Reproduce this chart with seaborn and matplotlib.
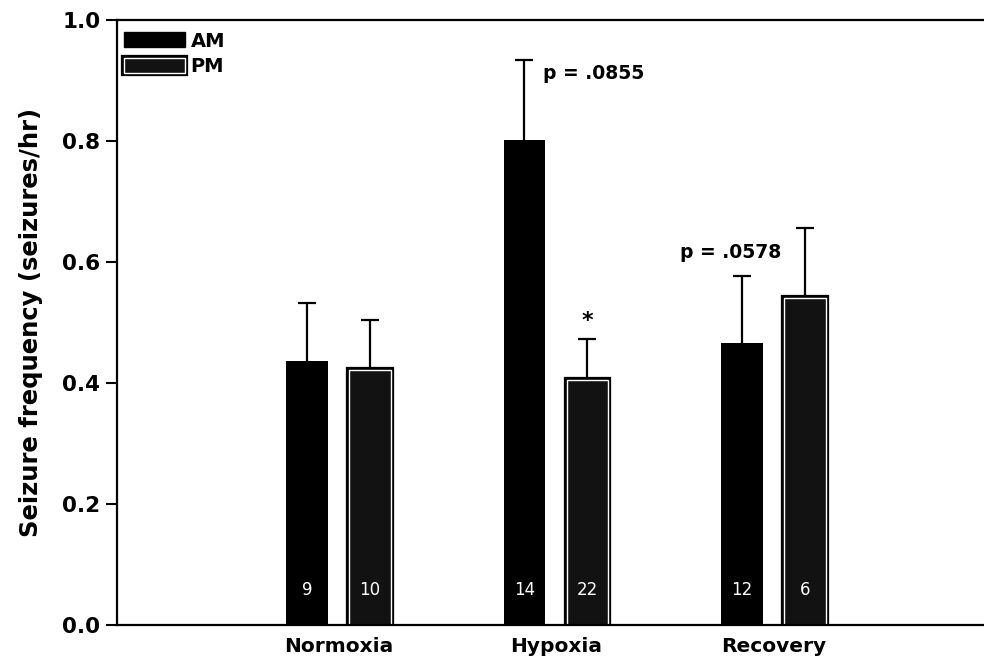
import matplotlib
matplotlib.use("Agg")
import matplotlib.pyplot as plt
import matplotlib.patheffects as pe
from matplotlib.patches import Patch
import seaborn as sns
import pandas as pd

# Seizure frequency by condition and recording session
conditions = ["Normoxia", "Hypoxia", "Recovery"]
sessions = ["AM", "PM"]
am_mean = [0.436, 0.802, 0.466]
pm_mean = [0.421, 0.405, 0.540]
am_sem = [0.096, 0.132, 0.111]
pm_sem = [0.083, 0.068, 0.116]
am_n = [9, 14, 12]
pm_n = [10, 22, 6]

df = pd.DataFrame({
    "condition": conditions * 2,
    "session": ["AM"] * 3 + ["PM"] * 3,
    "freq": am_mean + pm_mean,
})

sns.set_theme(style="white")
plt.rcParams["font.family"] = ["DejaVu Sans"]
plt.rcParams["font.weight"] = "bold"
for key in ["text.color", "axes.labelcolor", "xtick.color", "ytick.color"]:
    plt.rcParams[key] = "black"

fig = plt.figure(figsize=(9.84, 6.6), dpi=100)
ax = fig.add_axes([117 / 984, 35 / 660, 1 - 117 / 984, 605 / 660])

sns.barplot(data=df, x="condition", y="freq", hue="session",
            order=conditions, hue_order=sessions,
            palette={"AM": "black", "PM": "#121212"},
            width=0.58, gap=0.34, errorbar=None, legend=False, ax=ax,
            edgecolor="black", linewidth=0)

pm_effect = [pe.Stroke(linewidth=4.5, foreground="black"), pe.Normal()]
for bar in ax.containers[1]:
    bar.set_edgecolor("white")
    bar.set_linewidth(1.0)
    bar.set_path_effects(pm_effect)

# upward-only error bars (drawn behind the bars) and sample sizes
for cont, sems, ns in zip(list(ax.containers[:2]), [am_sem, pm_sem], [am_n, pm_n]):
    for bar, s, n in zip(cont, sems, ns):
        xc = bar.get_x() + bar.get_width() / 2
        h = bar.get_height()
        eb = ax.errorbar(xc, h, yerr=[[0], [s]], fmt="none", ecolor="black",
                         elinewidth=1.6, capsize=6.5, capthick=1.6, zorder=0.5)
        caps = eb[1]
        if len(caps) > 1:
            caps[0].set_visible(False)
        ax.text(xc, 0.058, str(n), color="white", ha="center", va="center",
                fontsize=12, fontweight="normal", zorder=5)

# significance annotations
hyp_am = ax.containers[0][1]
ax.text(hyp_am.get_x() + hyp_am.get_width() - 0.01, am_mean[1] + am_sem[1] - 0.022,
        "p = .0855", ha="left", va="center", fontsize=13.5, fontweight="bold")
rec_am = ax.containers[0][2]
ax.text(rec_am.get_x() + rec_am.get_width() / 2 - 0.05, am_mean[2] + am_sem[2] + 0.038,
        "p = .0578", ha="center", va="center", fontsize=13.5, fontweight="bold")
hyp_pm = ax.containers[1][1]
ax.text(hyp_pm.get_x() + hyp_pm.get_width() / 2, pm_mean[1] + pm_sem[1] + 0.03,
        "*", ha="center", va="center", fontsize=16, fontweight="bold")

ax.set_xlim(-1.02, 2.97)
ax.set_ylim(0, 1.0)
ticks = [0.0, 0.2, 0.4, 0.6, 0.8, 1.0]
ax.set_yticks(ticks)
ax.set_yticklabels([f"{v:.1f}" for v in ticks])
ax.tick_params(axis="y", direction="out", length=8, width=1.5, pad=4,
               labelsize=15.5, left=True)
ax.tick_params(axis="x", length=0, pad=9, labelsize=14.5)
for lab in ax.get_xticklabels() + ax.get_yticklabels():
    lab.set_fontweight("bold")
ax.set_xlabel("")
ax.set_ylabel("Seizure frequency (seizures/hr)", fontsize=17.5, fontweight="bold",
              labelpad=14)

for side in ["left", "bottom", "top"]:
    ax.spines[side].set_color("black")
    ax.spines[side].set_linewidth(1.6)
ax.spines["right"].set_visible(False)

handles = [Patch(facecolor="black", edgecolor="black", label="AM"),
           Patch(facecolor="#121212", edgecolor="white", linewidth=1.0,
                 path_effects=pm_effect, label="PM")]
leg = ax.legend(handles=handles, loc="upper left", bbox_to_anchor=(-0.005, 1.0),
                frameon=False, fontsize=14, handlelength=3.1, handleheight=0.8,
                handletextpad=0.3, labelspacing=0.35, borderaxespad=0.2)
for t in leg.get_texts():
    t.set_fontweight("bold")

fig.savefig("out.png", dpi=100)
